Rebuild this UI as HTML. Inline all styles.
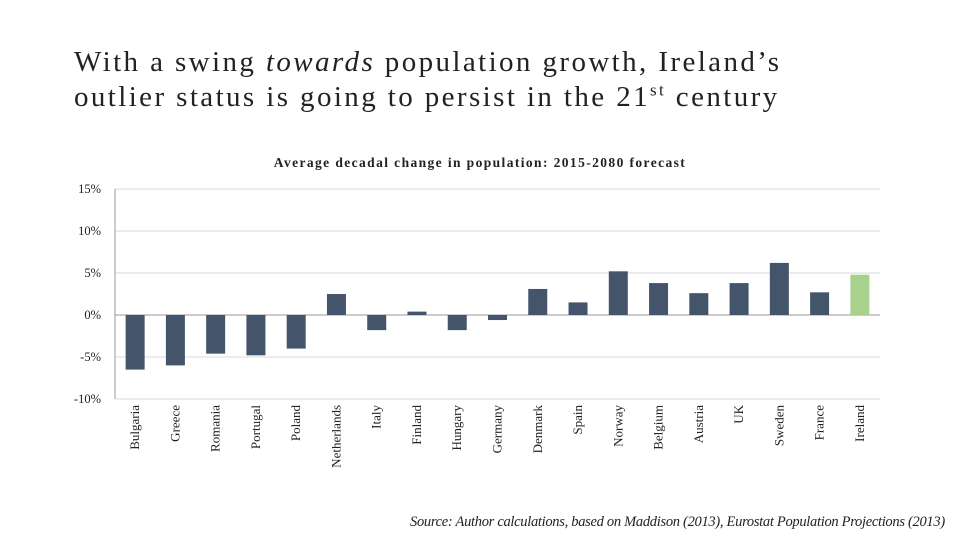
<!DOCTYPE html>
<html><head><meta charset="utf-8"><style>
body{margin:0;background:#fff;width:960px;height:540px;overflow:hidden;font-family:"Liberation Serif",serif}
.t{position:absolute;left:74px;font-size:29px;letter-spacing:2.4px;color:#222;line-height:35px}
</style></head><body>
<div class="t" style="top:45px">With a swing <i>towards</i> population growth, Ireland’s<br>outlier status is going to persist in the 21<sup style="font-size:17px;line-height:0">st</sup> century</div>
<svg width="960" height="540" style="position:absolute;left:0;top:0" id="c"></svg>
<div style="position:absolute;left:410px;top:514px;font-size:14.5px;letter-spacing:-0.3px;font-style:italic;color:#222;white-space:nowrap">Source: Author calculations, based on Maddison (2013), Eurostat Population Projections (2013)</div>
<script>
const categories=["Bulgaria","Greece","Romania","Portugal","Poland","Netherlands","Italy","Finland","Hungary","Germany","Denmark","Spain","Norway","Belgium","Austria","UK","Sweden","France","Ireland"];
const values=[-6.5,-6.0,-4.6,-4.8,-4.0,2.5,-1.8,0.4,-1.8,-0.6,3.1,1.5,5.2,3.8,2.6,3.8,6.2,2.7,4.8];
const ticks=[15,10,5,0,-5,-10];
const NS="http://www.w3.org/2000/svg";
const svg=document.getElementById('c');
const x0=115,x1=880,yTop=189,yBot=399,vmax=15,vmin=-10;
const y=v=>yTop+(vmax-v)/(vmax-vmin)*(yBot-yTop);
const step=(x1-x0)/categories.length;
function mk(t,a){const e=document.createElementNS(NS,t);for(const k in a)e.setAttribute(k,a[k]);svg.appendChild(e);return e;}
const ct=mk('text',{x:480,y:167,'text-anchor':'middle','font-size':13.5,'font-weight':'bold','letter-spacing':'1.4','font-family':'Liberation Serif,serif',fill:'#222'});
ct.textContent='Average decadal change in population: 2015-2080 forecast';


ticks.forEach(t=>{
 const l=mk('line',{x1:x0,x2:x1,y1:y(t),y2:y(t),stroke:t===0?'#999':'#d9d9d9','stroke-width':1});
 
 
 const tx=mk('text',{x:101,y:y(t)+4,'text-anchor':'end','font-size':12.5,'font-family':'Liberation Serif,serif',fill:'#222'});
 tx.textContent=t+'%';
 
 
});
const ax=mk('line',{x1:x0,x2:x0,y1:yTop,y2:yBot,stroke:'#999'});


categories.forEach((c,i)=>{
 const cx=x0+step*(i+0.5),v=values[i];
 const r=mk('rect',{x:cx-9.5,width:19,y:Math.min(y(v),y(0)),height:Math.abs(y(v)-y(0)),fill:c==='Ireland'?'#a9d18e':'#44546a'});
 
 
 const tx=mk('text',{x:0,y:0,'text-anchor':'end','font-size':13,'font-family':'Liberation Serif,serif',fill:'#222',transform:`translate(${cx+4},405) rotate(-90)`});
 tx.textContent=c;
 
 
});
</script>
</body></html>
